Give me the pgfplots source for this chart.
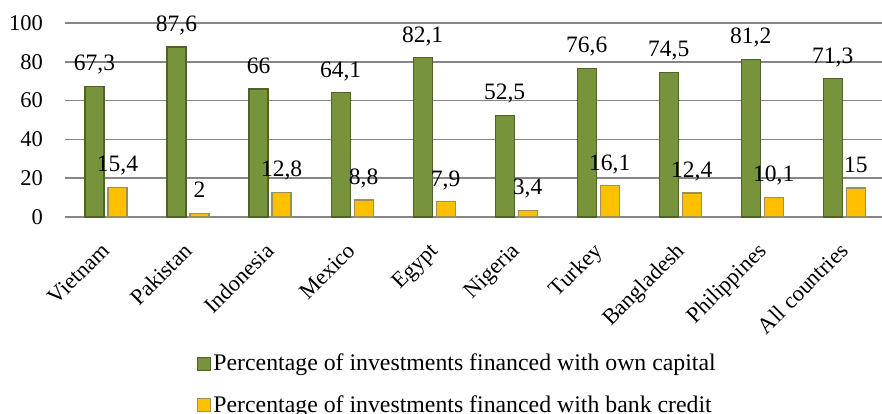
\documentclass[border=0pt]{standalone}
\usepackage{fontspec}
\setmainfont{Liberation Serif}
\usepackage{pgfplots}
\pgfplotsset{compat=1.18}
\definecolor{gbar}{HTML}{77933C}
\definecolor{gedge}{HTML}{4F6228}
\definecolor{ybarc}{HTML}{FFC000}
\definecolor{yedge}{HTML}{9C8F5A}
\definecolor{gridc}{HTML}{868686}
\begin{document}
\fontsize{23bp}{27bp}\selectfont
\begin{tikzpicture}
\begin{axis}[
  scale only axis, width=817bp, height=194bp,
  xmin=-0.5, xmax=9.46, ymin=0, ymax=100,
  ybar=4bp, bar width=19bp,
  ytick={0,20,...,100},
  xtick={0,...,9},
  xticklabels={Vietnam,Pakistan,Indonesia,Mexico,Egypt,Nigeria,Turkey,Bangladesh,Philippines,All countries},
  axis line style={draw=none},
  tick style={draw=none},
  ymajorgrids, major grid style={gridc, line width=1.5bp},
  /pgf/number format/assume math mode=true,
  /pgf/number format/use comma,
  nodes near coords,
  nodes near coords style={anchor=base, yshift=15.5bp, inner sep=0pt, text=black, font=\fontsize{23.5bp}{27bp}\selectfont},
  xticklabel style={xshift=-6bp, yshift=-20bp, rotate=45, anchor=north east, inner sep=0pt, font=\fontsize{22.5bp}{27bp}\selectfont},
  yticklabel style={anchor=east, inner sep=0pt, xshift=-22bp, font=\fontsize{22.5bp}{27bp}\selectfont},
  clip=false,
  legend cell align=left,
  legend style={at={(rel axis cs:0.1616,-0.695)}, anchor=north west, draw=none, fill=none,
    row sep=17bp, inner sep=0pt, font=\fontsize{23.8bp}{27bp}\selectfont,
    nodes={inner sep=2bp}},
  legend image code/.code={\draw[#1, line width=1.2bp] (0bp,-6bp) rectangle (13bp,7bp);},
]
\addplot[fill=gbar, draw=gedge, line width=1.2bp] coordinates {
 (0,67.3) (1,87.6) (2,66) (3,64.1) (4,82.1) (5,52.5) (6,76.6) (7,74.5) (8,81.2) (9,71.3)};
\addlegendentry{Percentage of investments financed with own capital}
\addplot[fill=ybarc, draw=yedge, line width=1.2bp] coordinates {
 (0,15.4) (1,2) (2,12.8) (3,8.8) (4,7.9) (5,3.4) (6,16.1) (7,12.4) (8,10.1) (9,15)};
\addlegendentry{Percentage of investments financed with bank credit}
\coordinate (sw) at (rel axis cs:0,0);
\end{axis}
\pgfresetboundingbox
\path ([xshift=-65bp,yshift=-197bp]sw) rectangle ([xshift=817bp,yshift=217bp]sw);
\end{tikzpicture}
\end{document}
